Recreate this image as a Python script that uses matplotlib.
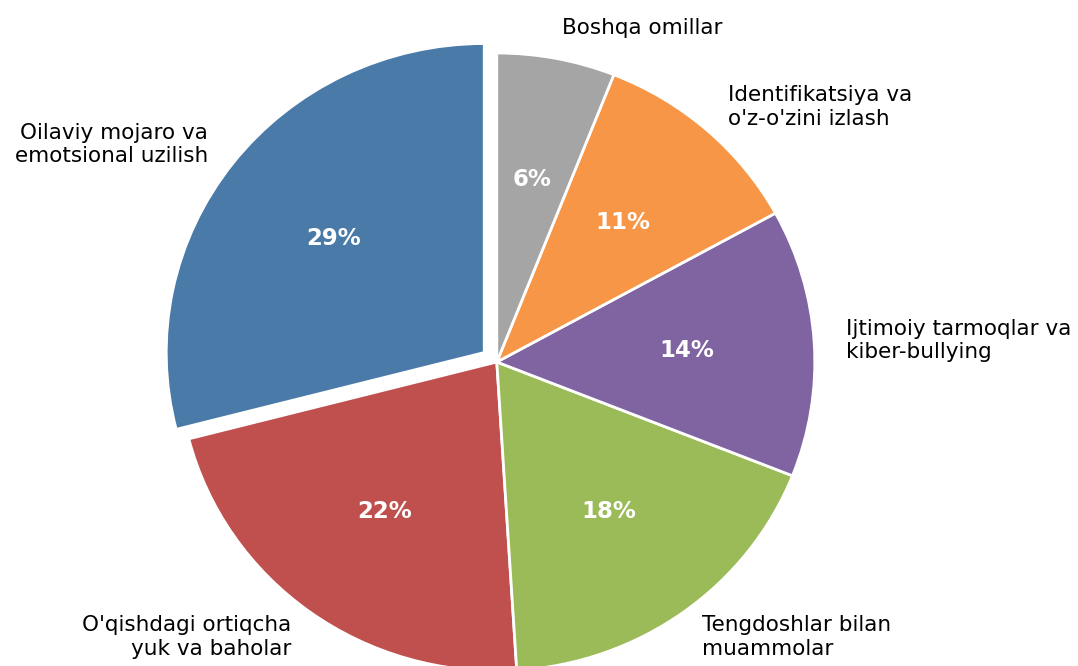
import matplotlib.pyplot as plt

labels = ["Oilaviy mojaro va\nemotsional uzilish",
          "O'qishdagi ortiqcha\nyuk va baholar",
          "Tengdoshlar bilan\nmuammolar",
          "Ijtimoiy tarmoqlar va\nkiber-bullying",
          "Identifikatsiya va\no'z-o'zini izlash",
          "Boshqa omillar"]
shares = [29, 22, 18, 14, 11, 6]
colors = ['#4A7AA7', '#C0504D', '#9BBB59', '#8064A2', '#F79646', '#A5A5A5']
explode = [0.05, 0, 0, 0, 0, 0]

fig = plt.figure(figsize=(10.78, 6.66), dpi=100)
# axes placed by hand so the pie sits where it does in the reference
W, H = 1078, 666
ax = fig.add_axes([-12.0 / W, -66.8 / H, 1017.6 / W, 741.6 / H])

wedges, texts, autotexts = ax.pie(
    shares, labels=labels, colors=colors, explode=explode,
    startangle=90, counterclock=True, autopct='%1.0f%%',
    pctdistance=0.6, labeldistance=1.1,
    wedgeprops=dict(edgecolor='white', linewidth=2),
    textprops=dict(fontsize=15.5, color='black'))

for t in autotexts:
    t.set_color('white')
    t.set_fontweight('bold')
    t.set_fontsize(16.5)

ax.set_aspect('auto')
ax.set_xlim(-1.6, 1.6)
ax.set_ylim(-1.2, 1.2)
ax.axis('off')

plt.savefig('out.png', dpi=100)
